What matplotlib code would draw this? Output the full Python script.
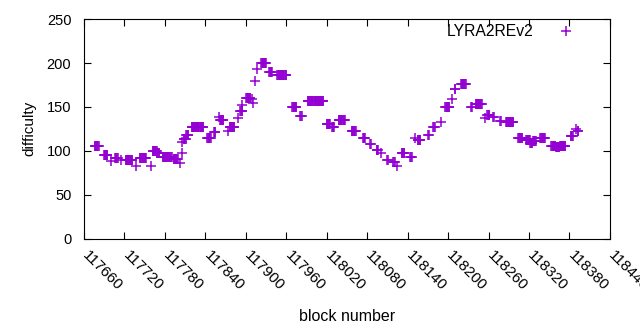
import matplotlib
matplotlib.use('Agg')
import matplotlib.pyplot as plt
import matplotlib.transforms as mtransforms

plt.rcParams['font.family'] = ['Liberation Sans', 'DejaVu Sans']

# plateaus: first block, last block, difficulty
seg_start = [117676, 117690, 117700, 117706, 117715, 117722, 117737, 117743, 117759, 117762,
             117768, 117777, 117793, 117802, 117805, 117806, 117808, 117812, 117820, 117843,
             117853, 117860, 117862, 117873, 117876, 117889, 117892, 117894, 117901, 117910,
             117911, 117914, 117917, 117923, 117935, 117947, 117969, 117981, 117992, 118020,
             118028, 118038, 118057, 118074, 118085, 118094, 118100, 118110, 118119, 118125,
             118131, 118144, 118151, 118155, 118171, 118178, 118189, 118196, 118206, 118210,
             118219, 118234, 118241, 118255, 118258, 118267, 118277, 118286, 118304, 118316,
             118322, 118326, 118337, 118353, 118360, 118366, 118382, 118390, 118392]
seg_end = [117682, 117695, 117700, 117710, 117715, 117732, 117737, 117752, 117759, 117768,
           117772, 117790, 117799, 117802, 117805, 117806, 117811, 117815, 117837, 117848,
           117855, 117860, 117867, 117873, 117883, 117889, 117895, 117894, 117907, 117910,
           117911, 117914, 117917, 117930, 117939, 117960, 117975, 117983, 118015, 118025,
           118031, 118047, 118063, 118077, 118086, 118096, 118100, 118111, 118121, 118125,
           118135, 118146, 118151, 118159, 118172, 118180, 118189, 118202, 118206, 118211,
           118226, 118235, 118250, 118255, 118261, 118268, 118278, 118297, 118310, 118321,
           118325, 118330, 118344, 118359, 118365, 118374, 118385, 118390, 118393]
seg_diff = [105, 95, 88, 92, 89, 90, 83, 92, 83, 100,
            97, 93, 91, 86, 97, 110, 113, 118, 127, 115,
            121, 138, 135, 122, 127, 137, 145, 152, 160, 159,
            154, 180, 193, 200, 190, 186, 150, 140, 157, 130,
            127, 135, 123, 115, 108, 101, 97, 90, 87, 83,
            98, 93, 115, 112, 118, 127, 133, 150, 159, 170,
            176, 150, 153, 137, 141, 138, 134, 133, 115, 112,
            109, 111, 115, 106, 104, 106, 117, 125, 122]

blocks = []
diffs = []
for s, e, d in zip(seg_start, seg_end, seg_diff):
    for b in range(s, e + 1):
        blocks.append(b)
        diffs.append(d)

fig = plt.figure(figsize=(6.4, 3.3), dpi=100)
ax = fig.add_axes([0.131, 0.277, 0.822, 0.665])

ax.plot(blocks, diffs, '+', color='#9400d3', markersize=6.5, markeredgewidth=1.1,
        label='LYRA2REv2')

ax.set_xlim(117660, 118440)
ax.set_ylim(0, 250)
ax.set_yticks(range(0, 251, 50))
ax.set_xticks(range(117660, 118441, 60))
ax.tick_params(direction='in', top=True, right=True, length=5, labelsize=10.5)
ax.tick_params(axis='y', pad=9)
ax.tick_params(axis='x', pad=0, labelsize=11)
offset = mtransforms.ScaledTranslation(0.06, -0.10, fig.dpi_scale_trans)
for lab in ax.get_xticklabels():
    lab.set_rotation(-45)
    lab.set_ha('left')
    lab.set_va('top')
    lab.set_rotation_mode('anchor')
    lab.set_transform(lab.get_transform() + offset)

ax.set_xlabel('block number', fontsize=11.5, va='center')
ax.xaxis.set_label_coords(0.5, -0.353)
ax.set_ylabel('difficulty', fontsize=11, va='center')
ax.yaxis.set_label_coords(-0.103, 0.5)
ax.legend(loc='center right', frameon=False, markerfirst=False, fontsize=11.3,
          handlelength=2.0, handletextpad=1.1, borderpad=0, borderaxespad=0,
          bbox_to_anchor=(582 / 640, 1 - 32 / 330), bbox_transform=fig.transFigure)

fig.savefig('out.png', dpi=100)
